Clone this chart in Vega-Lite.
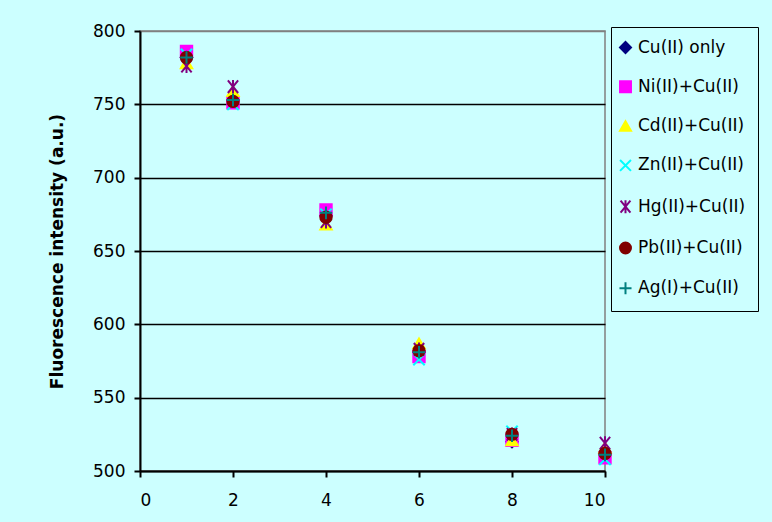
{
  "$schema": "https://vega.github.io/schema/vega-lite/v6.json",
  "width": 465,
  "height": 440,
  "autosize": {"type": "none"},
  "padding": {"left": 140, "top": 31, "right": 167, "bottom": 51},
  "background": "#CCFFFF",
  "config": {
    "font": "DejaVu Sans",
    "view": {"fill": "#CCFFFF", "stroke": "#808080", "strokeWidth": 1.5}
  },
  "data": {
    "values": [
      {"series": "Cu(II) only", "x": 1, "y": 782},
      {"series": "Cu(II) only", "x": 2, "y": 753},
      {"series": "Cu(II) only", "x": 4, "y": 674},
      {"series": "Cu(II) only", "x": 6, "y": 581},
      {"series": "Cu(II) only", "x": 8, "y": 520},
      {"series": "Cu(II) only", "x": 10, "y": 512},
      {"series": "Ni(II)+Cu(II)", "x": 1, "y": 786},
      {"series": "Ni(II)+Cu(II)", "x": 2, "y": 751},
      {"series": "Ni(II)+Cu(II)", "x": 4, "y": 678},
      {"series": "Ni(II)+Cu(II)", "x": 6, "y": 578},
      {"series": "Ni(II)+Cu(II)", "x": 8, "y": 521},
      {"series": "Ni(II)+Cu(II)", "x": 10, "y": 509},
      {"series": "Cd(II)+Cu(II)", "x": 1, "y": 778},
      {"series": "Cd(II)+Cu(II)", "x": 2, "y": 759},
      {"series": "Cd(II)+Cu(II)", "x": 4, "y": 668},
      {"series": "Cd(II)+Cu(II)", "x": 6, "y": 587},
      {"series": "Cd(II)+Cu(II)", "x": 8, "y": 521},
      {"series": "Cd(II)+Cu(II)", "x": 10, "y": 516},
      {"series": "Zn(II)+Cu(II)", "x": 1, "y": 784},
      {"series": "Zn(II)+Cu(II)", "x": 2, "y": 750},
      {"series": "Zn(II)+Cu(II)", "x": 4, "y": 675},
      {"series": "Zn(II)+Cu(II)", "x": 6, "y": 576},
      {"series": "Zn(II)+Cu(II)", "x": 8, "y": 527},
      {"series": "Zn(II)+Cu(II)", "x": 10, "y": 508},
      {"series": "Hg(II)+Cu(II)", "x": 1, "y": 776},
      {"series": "Hg(II)+Cu(II)", "x": 2, "y": 762},
      {"series": "Hg(II)+Cu(II)", "x": 4, "y": 670},
      {"series": "Hg(II)+Cu(II)", "x": 6, "y": 583},
      {"series": "Hg(II)+Cu(II)", "x": 8, "y": 525},
      {"series": "Hg(II)+Cu(II)", "x": 10, "y": 519},
      {"series": "Pb(II)+Cu(II)", "x": 1, "y": 782},
      {"series": "Pb(II)+Cu(II)", "x": 2, "y": 752},
      {"series": "Pb(II)+Cu(II)", "x": 4, "y": 673},
      {"series": "Pb(II)+Cu(II)", "x": 6, "y": 582},
      {"series": "Pb(II)+Cu(II)", "x": 8, "y": 525},
      {"series": "Pb(II)+Cu(II)", "x": 10, "y": 512},
      {"series": "Ag(I)+Cu(II)", "x": 1, "y": 782},
      {"series": "Ag(I)+Cu(II)", "x": 2, "y": 753},
      {"series": "Ag(I)+Cu(II)", "x": 4, "y": 676},
      {"series": "Ag(I)+Cu(II)", "x": 6, "y": 581},
      {"series": "Ag(I)+Cu(II)", "x": 8, "y": 524},
      {"series": "Ag(I)+Cu(II)", "x": 10, "y": 511}
    ]
  },
  "mark": {"type": "point", "filled": false, "size": 130, "strokeWidth": 2, "opacity": 1},
  "encoding": {
    "x": {
      "field": "x", "type": "quantitative",
      "scale": {"domain": [0, 10], "nice": false},
      "axis": {
        "title": null, "values": [0, 2, 4, 6, 8, 10], "grid": false,
        "domainColor": "black", "domainWidth": 2, "tickColor": "black", "tickWidth": 2, "tickSize": 6,
        "labelFontSize": 17, "labelColor": "black", "labelPadding": 15, "labelFont": "DejaVu Sans"
      }
    },
    "y": {
      "field": "y", "type": "quantitative",
      "scale": {"domain": [500, 800], "nice": false, "zero": false},
      "axis": {
        "title": "Fluorescence intensity (a.u.)", "titleFontSize": 17, "titleFontWeight": "bold", "titleColor": "black",
        "titlePadding": 26, "titleFont": "DejaVu Sans",
        "values": [500, 550, 600, 650, 700, 750, 800],
        "grid": true, "gridWidth": 1.5,
        "gridColor": {"condition": {"test": "datum.value == 800", "value": "#808080"}, "value": "black"},
        "domainColor": "black", "domainWidth": 2, "tickColor": "black", "tickWidth": 2, "tickSize": 6,
        "labelFontSize": 17, "labelColor": "black", "labelPadding": 9, "labelFont": "DejaVu Sans"
      }
    },
    "shape": {
      "field": "series", "type": "nominal", "sort": null,
      "scale": {
        "domain": ["Cu(II) only", "Ni(II)+Cu(II)", "Cd(II)+Cu(II)", "Zn(II)+Cu(II)", "Hg(II)+Cu(II)", "Pb(II)+Cu(II)", "Ag(I)+Cu(II)"],
        "range": ["diamond", "square", "triangle-up", "M-1,-1L1,1M-1,1L1,-1", "M-0.9,-1.1L0.9,1.1M-0.9,1.1L0.9,-1.1M0,-1.2L0,1.2", "circle", "M-1.1,0L1.1,0M0,-1.1L0,1.1"]
      },
      "legend": {
        "title": null, "orient": "none", "legendX": 471, "legendY": -4,
        "strokeColor": "black", "fillColor": "#CCFFFF",
        "padding": 12, "rowPadding": 20.3, "labelFontSize": 17, "labelFont": "DejaVu Sans", "labelColor": "black",
        "labelOffset": 4, "symbolOffset": -6, "symbolSize": 120, "symbolStrokeWidth": 2, "labelLimit": 300,
        "encode": {"legend": {"update": {"strokeWidth": {"value": 2}}}}
      }
    },
    "stroke": {
      "field": "series", "type": "nominal", "sort": null,
      "scale": {
        "domain": ["Cu(II) only", "Ni(II)+Cu(II)", "Cd(II)+Cu(II)", "Zn(II)+Cu(II)", "Hg(II)+Cu(II)", "Pb(II)+Cu(II)", "Ag(I)+Cu(II)"],
        "range": ["#000080", "#FF00FF", "#FFFF00", "#00FFFF", "#800080", "#800000", "#008080"]
      }
    },
    "fill": {
      "field": "series", "type": "nominal", "sort": null,
      "scale": {
        "domain": ["Cu(II) only", "Ni(II)+Cu(II)", "Cd(II)+Cu(II)", "Zn(II)+Cu(II)", "Hg(II)+Cu(II)", "Pb(II)+Cu(II)", "Ag(I)+Cu(II)"],
        "range": ["#000080", "#FF00FF", "#FFFF00", "transparent", "transparent", "#800000", "transparent"]
      }
    }
  }
}
